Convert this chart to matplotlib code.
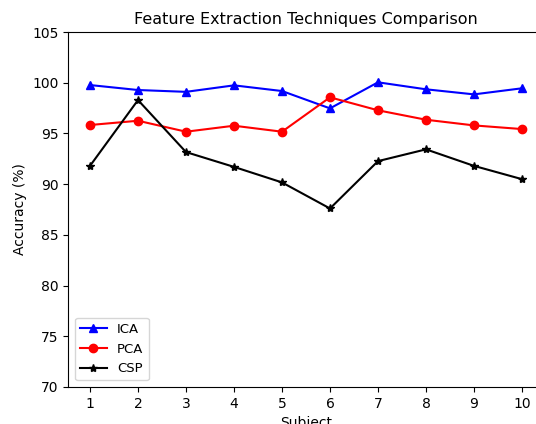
import matplotlib
matplotlib.use("Agg")
import matplotlib.pyplot as plt

subjects = [1, 2, 3, 4, 5, 6, 7, 8, 9, 10]
ica = [99.77, 99.28, 99.1, 99.74, 99.18, 97.47, 100.04, 99.35, 98.85, 99.45]
pca = [95.83, 96.25, 95.17, 95.76, 95.17, 98.56, 97.28, 96.35, 95.79, 95.43]
csp = [91.8, 98.29, 93.16, 91.7, 90.17, 87.6, 92.27, 93.43, 91.8, 90.49]

fig = plt.figure(figsize=(5.36, 4.24), dpi=100)
ax = fig.add_axes([68.4 / 536, 37 / 424, 475.2 / 536, 355 / 424])
ax.spines["right"].set_visible(False)

ax.plot(subjects, ica, "b^-", label="ICA", markersize=6)
ax.plot(subjects, pca, "ro-", label="PCA", markersize=6)
ax.plot(subjects, csp, "k*-", label="CSP", markersize=6)

ax.set_ylim(70, 105)
ax.set_xticks(subjects)
ax.set_xlabel("Subject")
ax.set_ylabel("Accuracy (%)")
ax.set_title("Feature Extraction Techniques Comparison", fontsize=11.5)
ax.legend(loc="lower left", fontsize=9.5)

fig.savefig("out.png", dpi=100)
